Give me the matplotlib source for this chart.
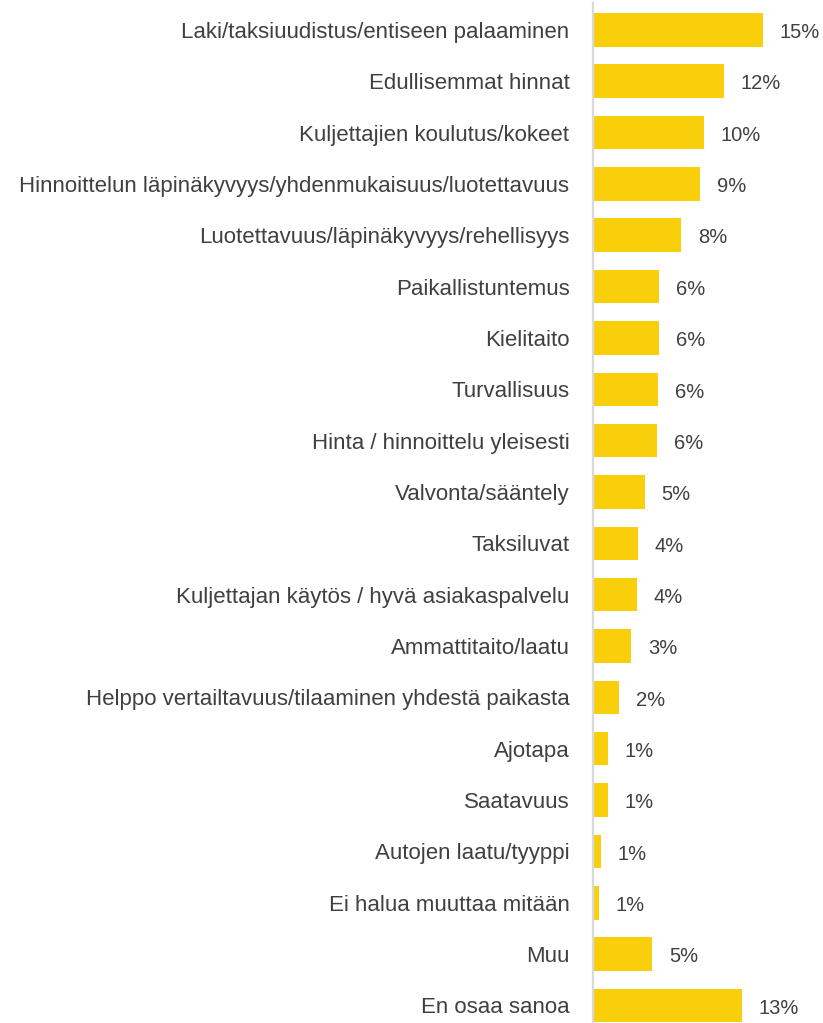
import matplotlib
matplotlib.use("Agg")
import matplotlib.pyplot as plt

categories = [
    "Laki/taksiuudistus/entiseen palaaminen",
    "Edullisemmat hinnat",
    "Kuljettajien koulutus/kokeet",
    "Hinnoittelun läpinäkyvyys/yhdenmukaisuus/luotettavuus",
    "Luotettavuus/läpinäkyvyys/rehellisyys",
    "Paikallistuntemus",
    "Kielitaito",
    "Turvallisuus",
    "Hinta / hinnoittelu yleisesti",
    "Valvonta/sääntely",
    "Taksiluvat",
    "Kuljettajan käytös / hyvä asiakaspalvelu",
    "Ammattitaito/laatu",
    "Helppo vertailtavuus/tilaaminen yhdestä paikasta",
    "Ajotapa",
    "Saatavuus",
    "Autojen laatu/tyyppi",
    "Ei halua muuttaa mitään",
    "Muu",
    "En osaa sanoa",
]
values = [15.0, 11.6, 9.8, 9.5, 7.8, 5.85, 5.85, 5.75, 5.7, 4.6, 4.0, 3.9, 3.4,
          2.3, 1.3, 1.3, 0.7, 0.56, 5.25, 13.2]
value_labels = ["15%", "12%", "10%", "9%", "8%", "6%", "6%", "6%", "6%", "5%",
                "4%", "4%", "3%", "2%", "1%", "1%", "1%", "1%", "5%", "13%"]

W, H = 823, 1023
fig = plt.figure(figsize=(W / 100, H / 100), dpi=100)
ax_left = 593 / W
ax_top = 1 - 3 / H
ax = fig.add_axes([ax_left, 0, 1 - ax_left, ax_top])

pitch = 51.35
first_center = 29.8
top_data = -(first_center - 3) / pitch
bottom_data = (H - first_center) / pitch
ypos = list(range(len(categories)))

ax.barh(ypos, values, height=33.5 / pitch, color="#F9CE0B", zorder=2)
ax.set_ylim(bottom_data, top_data)
ax.set_xlim(0, (W - 593) / 11.3)

text_color = "#404040"
font = "Liberation Sans"
for y, v, lab in zip(ypos, values, value_labels):
    ax.annotate(lab, xy=(v, y), xytext=(12.0, -2.0), textcoords="offset points",
                ha="left", va="center", fontsize=14.5, color=text_color,
                family=font)

ax.set_yticks(ypos)
ax.set_yticklabels(categories, fontsize=16, color=text_color, family=font)
ax.tick_params(axis="y", length=0, pad=17)
ax.set_xticks([])

for s in ["top", "right", "bottom"]:
    ax.spines[s].set_visible(False)
ax.spines["left"].set_color("#D9D9D9")
ax.spines["left"].set_linewidth(1.6)

fig.savefig("out.png", dpi=100)
